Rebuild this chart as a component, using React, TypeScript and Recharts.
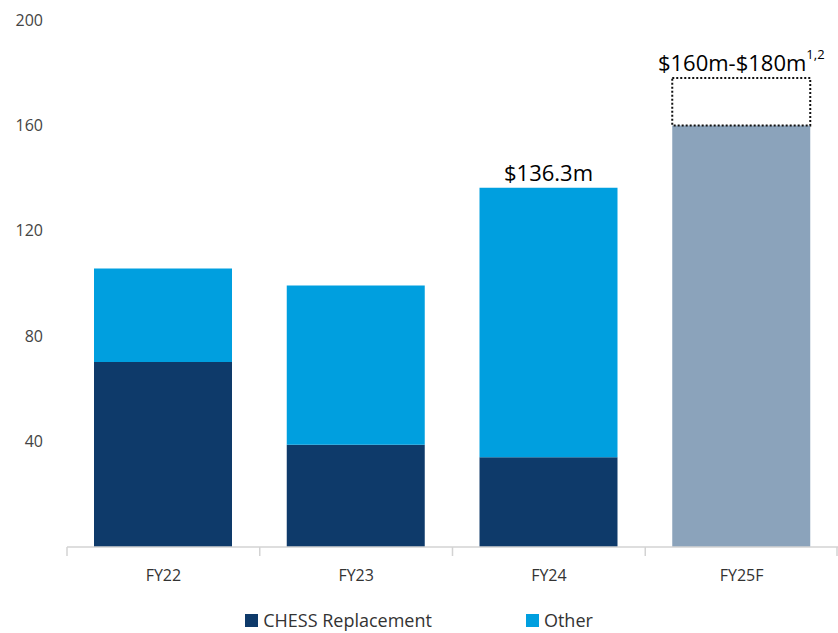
import React from 'react'
import { BarChart, Bar, XAxis, YAxis, Legend, LabelList } from 'recharts'

const years = ['FY22', 'FY23', 'FY24', 'FY25F']
const chess = [70.2, 38.8, 34.1, null]
const other = [35.5, 60.4, 102.2, null]
const forecast = [null, null, null, 160]
const forecastRange = [null, null, null, 18]
const totalLabels = ['', '', '$136.3m', '$160m-$180m']
const labelNotes = ['', '', '', '1,2']
const yTicks = [40, 80, 120, 160, 200]

const NAVY = '#0e3a6a'
const CYAN = '#009fdf'
const GREY = '#8ba3bb'
const FONT = '"Open Sans", "Noto Sans", sans-serif'

const data = years.map((year, i) => ({
  year,
  chess: chess[i],
  other: other[i],
  forecast: forecast[i],
  range: forecastRange[i],
  label: totalLabels[i],
}))

function XTick({ x, y, payload, index, visibleTicksCount }: any) {
  const half = payload.offset ?? 0
  const last = index === visibleTicksCount - 1
  return (
    <g>
      <line x1={x - half} x2={x - half} y1={y} y2={y + 9} stroke="#d3d3d3" strokeWidth={1.5} />
      {last && <line x1={x + half - 1} x2={x + half - 1} y1={y} y2={y + 9} stroke="#d3d3d3" strokeWidth={1.5} />}
      <text x={x} y={y + 28} textAnchor="middle" dominantBaseline="central" fill="#333" fontSize={16} fontFamily={FONT}>
        {payload.value}
      </text>
    </g>
  )
}

// labels sit above the top segment; looked up by the label text itself
function TopLabel(props: any) {
  const { x, y, width, value } = props
  if (!value) return null
  const note = labelNotes[totalLabels.indexOf(value)]
  return (
    <text x={x + width / 2} y={y - 16} textAnchor="middle" dominantBaseline="central" fill="#000" fontSize={22} fontFamily={FONT}>
      {value}
      {note && (
        <tspan fontSize={13} dy={-8}>{note}</tspan>
      )}
    </text>
  )
}

function LegendBox() {
  const items = [
    { name: 'CHESS Replacement', color: NAVY },
    { name: 'Other', color: CYAN },
  ]
  return (
    <div style={{ display: 'flex', justifyContent: 'center', gap: 94, height: 40, alignItems: 'center', paddingTop: 14, boxSizing: 'border-box', fontFamily: FONT, fontSize: 18, color: '#333' }}>
      {items.map((it) => (
        <div key={it.name} style={{ display: 'flex', alignItems: 'center', gap: 5 }}>
          <span style={{ width: 13, height: 13, background: it.color, display: 'inline-block' }} />
          <span>{it.name}</span>
        </div>
      ))}
    </div>
  )
}

export default function App() {
  return (
    <div style={{ position: 'absolute', left: 0, top: 0, background: '#fff' }}>
      <BarChart width={838} height={633} data={data} margin={{ top: 20, right: 0, left: 0, bottom: 0 }} barSize={138}>
        <XAxis
          dataKey="year"
          height={46}
          axisLine={{ stroke: '#d3d3d3', strokeWidth: 1.5 }}
          tickLine={false}
          tickSize={0}
          tickMargin={0}
          tick={<XTick />}
        />
        <YAxis
          width={67}
          domain={[0, 200]}
          ticks={yTicks}
          axisLine={false}
          tickLine={false}
          tickSize={0}
          tickMargin={24}
          tick={{ fill: '#444', fontSize: 16, fontFamily: FONT }}
        />
        <Legend verticalAlign="bottom" height={40} content={() => <LegendBox />} />
        <Bar dataKey="chess" name="CHESS Replacement" stackId="a" fill={NAVY} isAnimationActive={false} />
        <Bar dataKey="other" name="Other" stackId="a" fill={CYAN} isAnimationActive={false}>
          <LabelList dataKey="label" content={<TopLabel />} />
        </Bar>
        <Bar dataKey="forecast" stackId="a" fill={GREY} isAnimationActive={false} />
        <Bar dataKey="range" stackId="a" fill="none" stroke="#111" strokeWidth={2} strokeDasharray="2 2" isAnimationActive={false}>
          <LabelList dataKey="label" content={<TopLabel />} />
        </Bar>
      </BarChart>
    </div>
  )
}
